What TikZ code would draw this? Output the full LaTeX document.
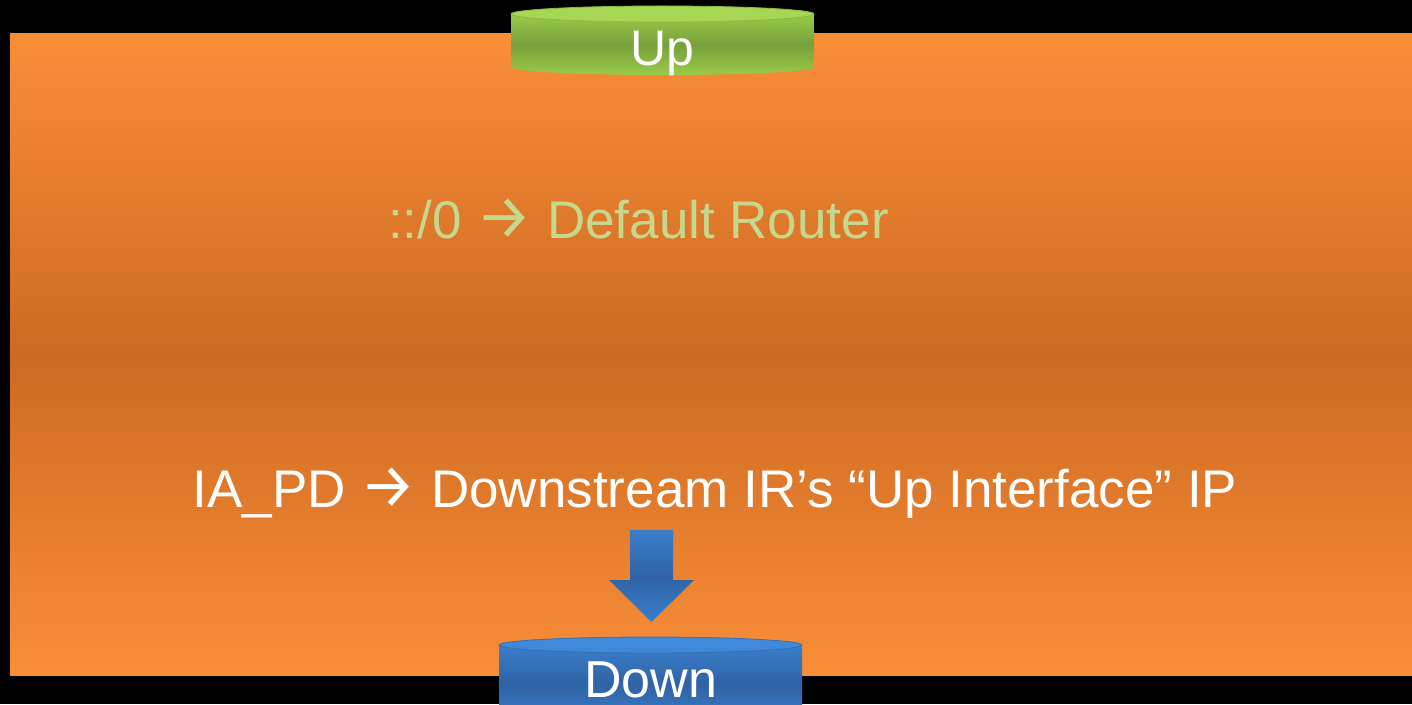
\documentclass[tikz,border=0pt]{standalone}
\usepackage{fontspec}
\setmainfont{Liberation Sans}
\newfontfamily\arrowfont{Fira Sans}
\definecolor{orLight}{HTML}{F98E37}
\definecolor{orDark}{HTML}{CD6A22}
\definecolor{gnLight}{HTML}{9ACB48}
\definecolor{gnDark}{HTML}{77A03B}
\definecolor{gnTop}{HTML}{A6D653}
\definecolor{gnRim}{HTML}{8DB845}
\definecolor{blLight}{HTML}{3B7ECB}
\definecolor{blDark}{HTML}{2F63A5}
\definecolor{blTop}{HTML}{4089DA}
\definecolor{blRim}{HTML}{3570B5}
\definecolor{routeText}{HTML}{C4D88E}
% wide arrow glyph used inside the routing lines
\newcommand{\rarr}{{\arrowfont\fontsize{62}{60}\selectfont →}}
\tikzset{
  label text/.style={font=\fontsize{53}{60}\selectfont, anchor=base, inner sep=0pt},
  green body/.style={top color=gnLight, bottom color=gnLight, middle color=gnDark},
  blue body/.style={top color=blLight, bottom color=blLight, middle color=blDark},
}
\begin{document}
\begin{tikzpicture}[x=1pt,y=1pt]
  \useasboundingbox (0,0) rectangle (1412,704);
  \clip (0,0) rectangle (1412,704);
  \fill[black] (0,0) rectangle (1412,704);
  % orange panel with a band of darker shade across the middle
  \shade[top color=orLight, bottom color=orLight, middle color=orDark]
    (10,29) rectangle (1412,670);

  % "Up" disc
  \shade[green body] (511,690) -- (511,637)
    arc[start angle=180, end angle=360, x radius=151.5, y radius=8]
    -- (814,690) -- cycle;
  \filldraw[fill=gnTop, draw=gnRim, line width=0.8pt] (662.5,690) ellipse[x radius=151.5, y radius=8];
  \node[label text, text=white, font=\fontsize{50}{60}\selectfont] (up) at (662.5,638) {Up};

  % "Down" disc
  \shade[blue body] (499,59) -- (499,-20) -- (802,-20) -- (802,59) -- cycle;
  \filldraw[fill=blTop, draw=blRim, line width=0.8pt] (650.5,59) ellipse[x radius=151.5, y radius=8];
  \node[label text, text=white, font=\fontsize{52}{60}\selectfont] (down) at (650.5,7) {Down};

  % block arrow pointing down to the "Down" disc
  \shade[blue body] (630,174) -- (673,174) -- (673,124) -- (694,124)
    -- (651.5,82) -- (609,124) -- (630,124) -- cycle;

  % routing text
  \node[label text, text=routeText] (route) at (638.5,465) {::/0 \rarr{} Default Router};
  \node[label text, text=white] (iapd) at (715,196)
    {IA\_PD \rarr{} Downstream IR’s “Up Interface” IP};
\end{tikzpicture}
\end{document}
